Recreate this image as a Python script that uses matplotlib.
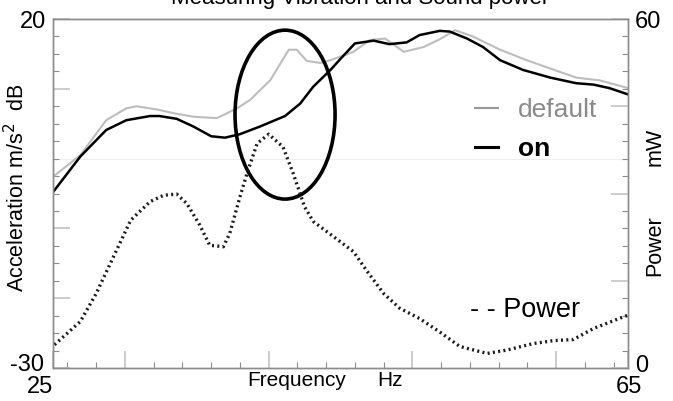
import numpy as np
import matplotlib
matplotlib.use("Agg")
import matplotlib.pyplot as plt
import matplotlib.transforms as mtransforms
from matplotlib.lines import Line2D
from matplotlib.patches import Ellipse
from matplotlib.ticker import MultipleLocator

plt.rcParams['font.family'] = ['Liberation Sans', 'DejaVu Sans']

# acceleration curves (dB) vs frequency (Hz)
freq_on = [25.0, 26.9, 28.7, 30.1, 31.75, 32.4, 33.6, 34.76, 36.0, 36.97, 38.0, 39.4,
           41.14, 42.2, 43.1, 44.3, 45.0, 46.0, 47.3, 48.4, 49.6, 50.5, 51.9, 52.6,
           53.8, 54.9, 56.1, 57.7, 59.6, 61.4, 62.6, 63.7, 65.0]
acc_on = [-4.8, 0.3, 4.1, 5.5, 6.1, 6.1, 5.7, 4.6, 3.2, 3.0, 3.5, 4.6,
          6.1, 7.9, 10.3, 12.7, 14.3, 16.5, 16.9, 16.4, 16.65, 17.7, 18.3, 18.2,
          17.2, 16.0, 14.1, 12.7, 11.6, 10.8, 10.6, 10.1, 9.2]

freq_default = [25.0, 26.9, 28.7, 30.1, 30.8, 32.2, 33.4, 34.76, 36.4, 37.8, 38.7, 40.1,
                41.4, 41.95, 42.65, 43.6, 44.3, 45.9, 47.05, 48.1, 49.4, 50.8, 51.9, 52.97,
                54.2, 56.1, 57.95, 59.6, 61.4, 63.05, 65.0]
acc_default = [-2.6, 0.5, 5.5, 7.2, 7.5, 7.05, 6.5, 6.0, 5.8, 7.2, 8.4, 11.2,
               15.6, 15.6, 14.0, 13.7, 14.1, 15.3, 17.0, 17.2, 15.3, 16.0, 17.1, 18.4,
               17.5, 15.6, 14.1, 12.9, 11.6, 11.2, 10.1]

# sound power (mW)
freq_power = [25.1, 26.9, 28.0, 29.2, 30.4, 31.75, 32.7, 33.6, 34.3, 35.2, 35.9, 36.85,
              37.3, 38.0, 38.5, 39.2, 40.0, 41.0, 41.7, 42.5, 43.1, 44.5, 45.9, 46.8,
              48.0, 49.1, 50.5, 51.9, 53.3, 55.2, 56.6, 58.4, 59.8, 61.2, 62.6, 65.0]
power = [4.0, 8.0, 12.8, 19.1, 25.4, 28.6, 29.7, 29.9, 28.3, 24.6, 21.1, 20.85,
         23.2, 29.4, 33.5, 38.6, 40.2, 38.0, 33.5, 27.7, 25.2, 22.6, 20.0, 16.8,
         12.8, 10.3, 8.5, 6.2, 3.7, 2.5, 3.1, 4.2, 4.7, 4.9, 6.8, 9.1]

fig = plt.figure(figsize=(6.73, 4.01), dpi=100)
ax = fig.add_axes([0.0788, 0.0823, 0.8544, 0.8703])
ax2 = ax.twinx()

ax.axhline(0, color='#eeeeee', lw=0.8, zorder=0)
ax.plot(freq_default, acc_default, color='#bdbdbd', lw=1.5)
ax.plot(freq_on, acc_on, color='black', lw=1.8)
ax2.plot(freq_power, power, color='#1a1a1a', lw=2.4, ls=(0, (0.6, 1.0)))

ax.add_patch(Ellipse((41.14, 6.3), 6.96, 24.2, fill=False, lw=2.6,
                     color='black', zorder=5))

ax.set_xlim(25, 65)
ax.set_ylim(-30, 20)
ax2.set_ylim(0, 60)

spine_col = '#8c8c8c'
for a in (ax, ax2):
    for s in a.spines.values():
        s.set_color(spine_col)
        s.set_linewidth(1.0)

ax.set_xticks([25, 30, 40, 50, 60, 65])
ax.set_xticklabels(['25', '', '', '', '', '65'])
ax.xaxis.set_minor_locator(MultipleLocator(2))
ax.set_yticks([-30, -20, -10, 10, 20])
ax.set_yticklabels(['-30', '', '', '', '20'])
ax.yaxis.set_minor_locator(MultipleLocator(2.5))
ax2.set_yticks([0, 15, 30, 45, 60])
ax2.set_yticklabels(['0', '', '', '', '60'])
ax2.yaxis.set_minor_locator(MultipleLocator(3))

for a in (ax, ax2):
    a.tick_params(which='major', direction='in', length=12, width=1.2,
                  color='#c4c4c4', labelsize=17, pad=5)
    a.tick_params(which='minor', direction='in', length=4, width=0.8,
                  color='#8c8c8c')
ax.tick_params(axis='x', which='major', pad=5)

# corner labels: nudge them apart the way the original lays them out
def nudge(label, dx, dy):
    off = mtransforms.ScaledTranslation(dx / 100, dy / 100, fig.dpi_scale_trans)
    label.set_transform(label.get_transform() + off)

nudge(ax.get_xticklabels()[0], -13, -1)
nudge(ax.get_xticklabels()[-1], 1, -1)
nudge(ax.get_yticklabels()[0], -2, 5)
nudge(ax2.get_yticklabels()[0], 0, 4)

ax.text(0.424, -0.01, 'Frequency', transform=ax.transAxes,
        ha='center', va='top', fontsize=15)
ax.text(0.586, -0.01, 'Hz', transform=ax.transAxes,
        ha='center', va='top', fontsize=15)
ax.text(-0.063, 0.515, 'Acceleration m/s$^2$  dB', transform=ax.transAxes,
        rotation=90, ha='center', va='center', fontsize=15.5)
ax.text(1.047, 0.352, 'Power', transform=ax.transAxes,
        rotation=90, ha='center', va='center', fontsize=15.5)
ax.text(1.047, 0.633, 'mW', transform=ax.transAxes,
        rotation=90, ha='center', va='center', fontsize=15.5)
ax.text(0.725, 0.166, '- - Power', transform=ax.transAxes,
        ha='left', va='center', fontsize=19.5)

handles = [Line2D([], [], color='#999999', lw=1.5),
           Line2D([], [], color='black', lw=2.2)]
leg = ax.legend(handles, ['default', 'on'], loc='upper left',
                bbox_to_anchor=(0.734, 0.773), frameon=False, fontsize=19,
                handlelength=0.85, handletextpad=0.77, labelspacing=0.55,
                borderpad=0, borderaxespad=0)
leg.get_texts()[0].set_color('#8a8a8a')
leg.get_texts()[1].set_fontweight('bold')

fig.text(0.535, 1 - 4 / 401, 'Measuring Vibration and Sound power',
         ha='center', va='baseline', fontsize=16)

fig.savefig('out.png', dpi=100)
